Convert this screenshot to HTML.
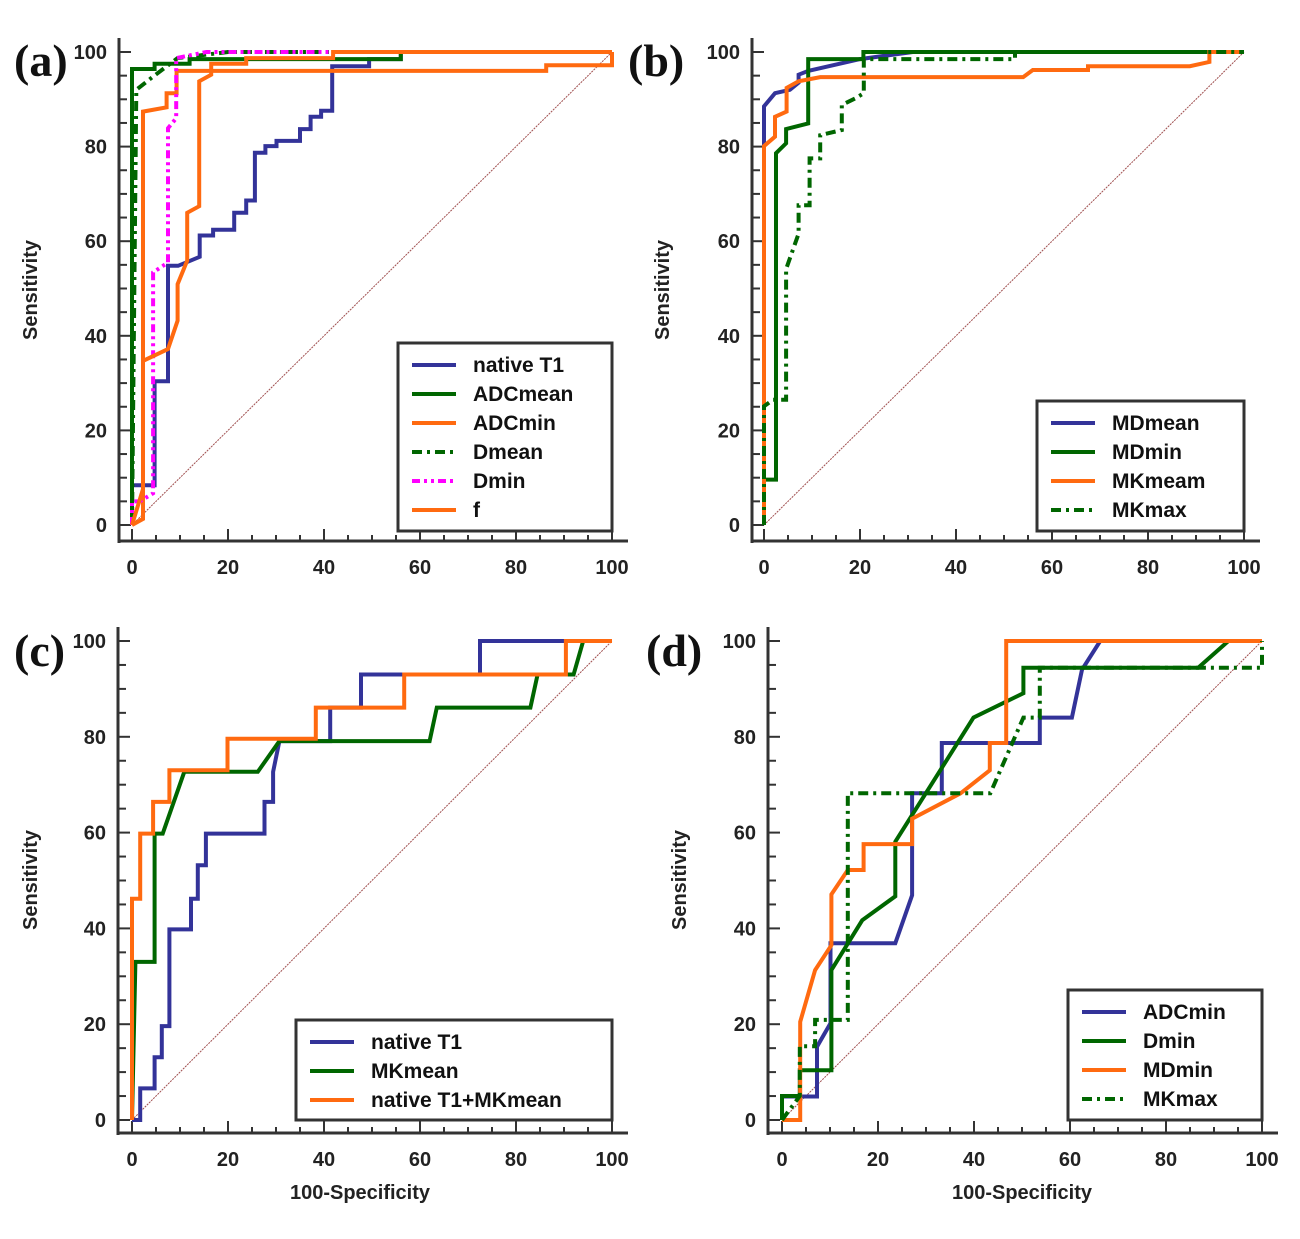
<!DOCTYPE html>
<html><head><meta charset="utf-8"><style>
html,body{margin:0;padding:0;background:#fff;}
svg{display:block;}
text{font-family:"Liberation Sans",Arial,sans-serif;}
</style></head><body>
<svg id="fig" width="1300" height="1239" viewBox="0 0 1300 1239" xmlns="http://www.w3.org/2000/svg"></svg>
<script>
// ---- Panel (a) data ----
const aNativeX=[0,0,4.7,4.7,7.5,7.5,9.6,14.1,14.1,16.9,16.9,21.3,21.3,23.8,23.8,25.6,25.6,27.8,27.8,30.1,30.1,35,35,37.2,37.2,39.4,39.4,41.7,41.7,44,49.4,49.4,56,56,100];
const aNativeY=[0,8.4,8.4,30.4,30.4,54.8,54.8,56.7,61.2,61.2,62.4,62.4,66,66,68.6,68.6,78.7,78.7,80.1,80.1,81.2,81.2,83.7,83.7,86.3,86.3,87.6,87.6,97,97,97,98.5,98.5,100,100];
const aAdcmeanX=[0,0,4.7,4.7,12,12,56,56,100];
const aAdcmeanY=[0,96.4,96.4,97.5,97.5,98.5,98.5,100,100];
const aAdcminX=[0,2.3,2.3,7.2,7.2,9.3,9.3,86.3,86.3,100,100];
const aAdcminY=[0,1.3,87.4,88.3,91.3,91.3,96,96,97.2,97.2,100];
const aDmeanX=[0,0.9,4.4,9.5,20,100];
const aDmeanY=[0,92,94.8,98.7,100,100];
const aDminX=[0,0,1.6,4.4,4.4,7.5,7.5,9.2,9.2,15.5,100];
const aDminY=[0,5,5,6.7,53.4,55.5,83.9,86,98.7,100,100];
const aFX=[0,2.3,2.3,7.5,9.5,9.5,11.5,11.5,14,14,16.5,16.5,23.8,23.8,41.9,41.9,100];
const aFY=[0,7.6,34.7,37.2,43.2,50.9,55.9,66,67.4,93.8,95.2,97.5,97.5,98.7,98.7,100,100];
// ---- Panel (b) data ----
const bMdmeanX=[0,0,2.3,5.4,7.2,7.2,9.2,20,31,100];
const bMdmeanY=[0,88.5,91.3,92,93.5,95.2,96,98.5,100,100];
const bMdminX=[0,0,2.5,2.5,4.6,4.6,9.2,9.2,20.7,20.7,100];
const bMdminY=[0,9.6,9.6,78.6,80.7,83.7,84.9,98.5,98.5,100,100];
const bMkmeamX=[0,0,2.3,2.3,4.7,4.7,7.2,11.7,54,56,67.5,67.5,88.7,92.8,92.8,100];
const bMkmeamY=[0,80.1,82.1,86.3,87.4,92.4,93.8,94.7,94.7,96.2,96.2,97,97,97.9,100,100];
const bMkmaxX=[0,0,1.9,4.6,4.6,7.2,7.2,9.5,9.5,11.7,11.7,16.2,16.2,19,20.8,20.8,52.3,52.3,100];
const bMkmaxY=[0,25.1,26.5,26.5,54.1,61.6,67.6,67.6,77.5,77.5,82.4,83.5,88.8,90.2,91.3,98.5,98.5,100,100];
// ---- Panel (c) data ----
const cNativeX=[0,1.7,1.7,4.7,4.7,6.2,6.2,7.8,7.8,12.3,12.3,13.7,13.7,15.4,15.4,27.6,27.6,29.4,29.4,30.7,41.3,41.3,47.7,47.7,72.5,72.5,100];
const cNativeY=[0,0,6.6,6.6,13.1,13.1,19.6,19.6,39.8,39.8,46.2,46.2,53.2,53.2,59.8,59.8,66.4,66.4,72.7,79.1,79.1,86.1,86.1,93,93,100,100];
const cMkmeanX=[0,0.7,4.7,4.7,6.4,10.9,26.2,30.7,62,63.5,83,84.5,92,94,100];
const cMkmeanY=[0,33,33,59.8,59.8,72.7,72.7,79.1,79.1,86.1,86.1,93,93,100,100];
const cCombX=[0,0,1.7,1.7,4.4,4.4,7.8,7.8,19.9,19.9,38.3,38.3,56.7,56.7,90.4,90.4,100];
const cCombY=[0,46.2,46.2,59.8,59.8,66.4,66.4,73,73,79.6,79.6,86.1,86.1,93,93,100,100];
// ---- Panel (d) data ----
const dAdcminX=[0,0,7.3,7.3,10.1,10.1,23.6,27.1,27.1,33.3,33.3,53.7,53.7,60.4,62.5,66.3,100];
const dAdcminY=[0,4.9,4.9,15.3,20.2,36.9,36.9,46.9,68.2,68.2,78.7,78.7,84,84,94,100,100];
const dDminX=[0,0,3.7,3.7,10.3,10.3,16.7,23.6,23.6,39.9,50.3,50.3,86.7,93,100];
const dDminY=[0,5,5,10.4,10.4,31.3,41.7,46.7,58.1,84,89.1,94.4,94.4,100,100];
const dMdminX=[0,3.8,3.8,6.9,10.3,10.3,13.7,17,17,27.1,27.1,37.2,43.3,43.3,46.7,46.7,100];
const dMdminY=[0,0,20.5,31.3,36.5,47.1,52.2,52.2,57.6,57.6,62.9,68.2,73,78.7,78.7,100,100];
const dMkmaxX=[0,3.7,3.7,6.9,6.9,13.7,13.7,43.4,50.3,53.7,53.7,100,100];
const dMkmaxY=[0,5,15.4,15.4,20.9,20.9,68.2,68.2,84,84,94.4,94.4,100];
const xTicks=[0,20,40,60,80,100];
const yTicks=[0,20,40,60,80,100];

const NS="http://www.w3.org/2000/svg";
const svg=document.getElementById('fig');
function mk(tag,attrs,parent){const e=document.createElementNS(NS,tag);for(const k in attrs)e.setAttribute(k,attrs[k]);(parent||svg).appendChild(e);return e;}
const BLUE="#333399",GREEN="#006600",ORANGE="#ff6a10",MAG="#ff00ff";

function panel(p){
  const g=mk('g',{});
  
  
  const sx=v=>p.x0+(p.x100-p.x0)*v/100, sy=v=>p.y0+(p.y100-p.y0)*v/100;
  const dg=mk('line',{x1:sx(0),y1:sy(0),x2:sx(100),y2:sy(100),stroke:"#a05050","stroke-width":1,"stroke-dasharray":"2 1"},g);
  
  
  const ax=mk('g',{},g);
  
  
  mk('line',{x1:p.ax,y1:p.y100-14,x2:p.ax,y2:p.axy+2,stroke:"#333","stroke-width":3},ax);
  mk('line',{x1:p.ax-1,y1:p.axy,x2:sx(100)+16,y2:p.axy,stroke:"#333","stroke-width":3},ax);
  for(let v=0;v<=100;v+=5){
    const maj=v%20===0;
    mk('line',{x1:p.ax,y1:sy(v),x2:p.ax+(maj?12:8),y2:sy(v),stroke:"#333","stroke-width":2},ax);
    mk('line',{x1:sx(v),y1:p.axy,x2:sx(v),y2:p.axy-(maj?12:6),stroke:"#333","stroke-width":2},ax);
  }
  yTicks.forEach(v=>{const t=mk('text',{x:p.ax-12,y:sy(v)+7,"text-anchor":"end","font-size":20,"font-weight":"bold",fill:"#222"},g);t.textContent=v;
    
    });
  xTicks.forEach(v=>{const t=mk('text',{x:sx(v),y:p.axy+33,"text-anchor":"middle","font-size":20,"font-weight":"bold",fill:"#222"},g);t.textContent=v;
    
    });
  const yl=mk('text',{x:0,y:0,transform:`translate(${p.ylx},${p.yly}) rotate(-90)`,"text-anchor":"middle","font-size":20,"font-weight":"bold",fill:"#222"},g);
  yl.textContent="Sensitivity";
  
  
  if(p.xlabel){const xl=mk('text',{x:sx(50)+(p.id==='c'?-12:0),y:p.axy+66,"text-anchor":"middle","font-size":20,"font-weight":"bold",fill:"#222"},g);xl.textContent="100-Specificity";
    
    }
  const pl=mk('text',{x:p.lx,y:p.ly,"font-size":46,"font-weight":"bold",fill:"#111",style:"font-family:'Liberation Serif',serif"},g);
  pl.textContent="("+p.id+")";
  
  
  p.series.forEach(s=>{
    const pts=s.xs.map((x,i)=>sx(x).toFixed(1)+","+sy(s.ys[i]).toFixed(1)).join(" ");
    const l=mk('polyline',{points:pts,fill:"none",stroke:s.c,"stroke-width":4,"stroke-linejoin":"miter"},g);
    if(s.d)l.setAttribute('stroke-dasharray',s.d);
    
    
  });
  const L=p.leg;
  const lg=mk('g',{},g);
  
  
  mk('rect',{x:L.x,y:L.y,width:L.w,height:L.h,fill:"#fff",stroke:"#333","stroke-width":3},lg);
  p.series.forEach((s,i)=>{
    const yy=L.y+22+i*29;
    const e=mk('g',{},lg);
    
    
    const ln=mk('line',{x1:L.x+14,y1:yy,x2:L.x+58,y2:yy,stroke:s.c,"stroke-width":4},e);
    if(s.d)ln.setAttribute('stroke-dasharray',s.d);
    const t=mk('text',{x:L.x+75,y:yy+7,"font-size":21,"font-weight":"bold",fill:"#111"},e);
    t.textContent=s.n;
  });
}

panel({id:'a',x0:132,x100:612,y0:525,y100:52,ax:119,axy:541,ylx:37,yly:290,lx:14,ly:76,xlabel:false,
  leg:{x:398,y:343,w:214,h:188},
  series:[{n:"native T1",xs:aNativeX,ys:aNativeY,c:BLUE},{n:"ADCmean",xs:aAdcmeanX,ys:aAdcmeanY,c:GREEN},
  {n:"ADCmin",xs:aAdcminX,ys:aAdcminY,c:ORANGE},{n:"Dmean",xs:aDmeanX,ys:aDmeanY,c:GREEN,d:"10 5 3 5"},
  {n:"Dmin",xs:aDminX,ys:aDminY,c:MAG,d:"8 4 3 4 3 4"},{n:"f",xs:aFX,ys:aFY,c:ORANGE}]});
panel({id:'b',x0:764,x100:1244,y0:525,y100:52,ax:752,axy:541,ylx:669,yly:290,lx:628,ly:76,xlabel:false,
  leg:{x:1037,y:401,w:207,h:130},
  series:[{n:"MDmean",xs:bMdmeanX,ys:bMdmeanY,c:BLUE},{n:"MDmin",xs:bMdminX,ys:bMdminY,c:GREEN},
  {n:"MKmeam",xs:bMkmeamX,ys:bMkmeamY,c:ORANGE},{n:"MKmax",xs:bMkmaxX,ys:bMkmaxY,c:GREEN,d:"10 5 3 5"}]});
panel({id:'c',x0:132,x100:612,y0:1120,y100:641,ax:118,axy:1133,ylx:37,yly:880,lx:14,ly:666,xlabel:true,
  leg:{x:296,y:1020,w:316,h:100},
  series:[{n:"native T1",xs:cNativeX,ys:cNativeY,c:BLUE},{n:"MKmean",xs:cMkmeanX,ys:cMkmeanY,c:GREEN},
  {n:"native T1+MKmean",xs:cCombX,ys:cCombY,c:ORANGE}]});
panel({id:'d',x0:782,x100:1262,y0:1120,y100:641,ax:768,axy:1133,ylx:686,yly:880,lx:646,ly:666,xlabel:true,
  leg:{x:1068,y:990,w:194,h:130},
  series:[{n:"ADCmin",xs:dAdcminX,ys:dAdcminY,c:BLUE},{n:"Dmin",xs:dDminX,ys:dDminY,c:GREEN},
  {n:"MDmin",xs:dMdminX,ys:dMdminY,c:ORANGE},{n:"MKmax",xs:dMkmaxX,ys:dMkmaxY,c:GREEN,d:"10 5 3 5"}]});
</script>
</body></html>
